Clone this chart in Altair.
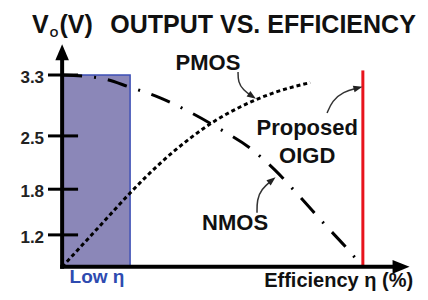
import altair as alt
import pandas as pd

# ---- data (Efficiency in %, Vo in V) ----
tick_values = [3.3, 2.5, 1.8, 1.2]
tick_labels = ["3.3", "2.5", "1.8", "1.2"]

nmos_eff = [0, 12.6, 22.6, 32.6, 42.6, 52.5, 62.5, 70.8, 79.1, 87.5, 94.1, 100]
nmos_vo = [3.3, 3.26, 3.14, 3.00, 2.81, 2.59, 2.34, 2.05, 1.70, 1.33, 1.05, 0.78]

pmos_eff = [0, 12.6, 22.6, 32.6, 42.6, 50.9, 59.2, 69.2, 82.5]
pmos_vo = [0.78, 1.32, 1.75, 2.14, 2.47, 2.70, 2.88, 3.05, 3.20]

v_origin = 0.78
v_max = 3.3
low_eff_max = 22.6
oigd_eff = 100
oigd_top = 3.36
y_axis_top = 3.6
x_axis_end = 112.7

# annotation arrows (curved pointers) in data units
arrow_names = ["PMOS"] * 4 + ["OIGD"] * 4 + ["NMOS"] * 4
arrow_eff = [58.5, 58.5, 60.2, 63.2, 88.1, 89.8, 93.4, 98.4, 64.8, 64.8, 66.2, 69.8]
arrow_vo = [3.34, 3.21, 3.10, 3.02, 2.80, 2.96, 3.08, 3.13, 1.49, 1.66, 1.80, 1.92]
head_eff = [63.2, 98.4, 69.8]
head_vo = [3.02, 3.13, 1.92]
head_angle = [34, 345, 321]

X_DOMAIN = [-18, 119]
Y_DOMAIN = [0.45, 4.18]
FONT = "Liberation Sans"

xs = alt.Scale(domain=X_DOMAIN, nice=False, zero=False)
ys = alt.Scale(domain=Y_DOMAIN, nice=False, zero=False)


def X(f):
    return alt.X(f, type="quantitative", scale=xs, axis=None)


def Y(f):
    return alt.Y(f, type="quantitative", scale=ys, axis=None)


rect_df = pd.DataFrame({"x": [0], "x2": [low_eff_max], "y": [v_origin], "y2": [v_max]})
rect = alt.Chart(rect_df).mark_rect(fill="#8b87b8", stroke="#3d4fb5", strokeWidth=1.5).encode(
    x=X("x"), x2="x2", y=Y("y"), y2="y2")

nmos_df = pd.DataFrame({"x": nmos_eff, "y": nmos_vo, "i": range(len(nmos_eff))})
nmos = alt.Chart(nmos_df).mark_line(color="black", strokeWidth=3, strokeDash=[20, 12, 2, 12],
                                    interpolate="monotone").encode(x=X("x"), y=Y("y"), order="i")

pmos_df = pd.DataFrame({"x": pmos_eff, "y": pmos_vo, "i": range(len(pmos_eff))})
pmos = alt.Chart(pmos_df).mark_line(color="black", strokeWidth=3, strokeDash=[4, 3],
                                    interpolate="monotone").encode(x=X("x"), y=Y("y"), order="i")

red_df = pd.DataFrame({"x": [oigd_eff], "y": [v_origin], "y2": [oigd_top]})
red = alt.Chart(red_df).mark_rule(color="#e8141c", strokeWidth=3).encode(x=X("x"), y=Y("y"), y2="y2")

yax_df = pd.DataFrame({"x": [0], "y": [v_origin], "y2": [y_axis_top]})
yax = alt.Chart(yax_df).mark_rule(color="black", strokeWidth=4, strokeCap="square").encode(
    x=X("x"), y=Y("y"), y2="y2")
xax_df = pd.DataFrame({"x": [0], "x2": [x_axis_end], "y": [v_origin]})
xax = alt.Chart(xax_df).mark_rule(color="black", strokeWidth=4, strokeCap="square").encode(
    x=X("x"), x2="x2", y=Y("y"))

yarrow = alt.Chart(pd.DataFrame({"x": [0], "y": [y_axis_top]})).mark_point(
    shape="M0,-1L0.85,1L-0.85,1Z", filled=True, size=256, color="black", opacity=1).encode(x=X("x"), y=Y("y"))
xarrow = alt.Chart(pd.DataFrame({"x": [x_axis_end], "y": [v_origin]})).mark_point(
    shape="M1,0L-1,0.8L-1,-0.8Z", filled=True, size=289, color="black", opacity=1).encode(x=X("x"), y=Y("y"))

tick_df = pd.DataFrame({"v": tick_values, "lab": tick_labels, "a": [-4.7] * 4, "b": [5.3] * 4, "t": [-6.0] * 4})
ticks = alt.Chart(tick_df).mark_rule(color="black", strokeWidth=3).encode(x=X("a"), x2="b", y=Y("v"))
tick_text = alt.Chart(tick_df).mark_text(font=FONT, fontWeight="bold", fontSize=17, align="right",
                                         baseline="middle", dy=3, color="#222").encode(
    x=X("t"), y=Y("v"), text="lab")

arr_df = pd.DataFrame({"n": arrow_names, "x": arrow_eff, "y": arrow_vo, "i": range(len(arrow_eff))})
arrows = alt.Chart(arr_df).mark_line(color="#333", strokeWidth=1.5, interpolate="basis").encode(
    x=X("x"), y=Y("y"), detail="n", order="i")
head_df = pd.DataFrame({"x": head_eff, "y": head_vo, "a": head_angle})
heads = alt.Chart(head_df).mark_point(shape="M1,0L-1,0.75L-1,-0.75Z", filled=True, size=81,
                                      color="#222", opacity=1).encode(
    x=X("x"), y=Y("y"), angle=alt.Angle("a", type="quantitative", scale=None))


def label(txt, x, y, size, align="center", color="#111"):
    df = pd.DataFrame({"x": [x], "y": [y], "t": [txt]})
    return alt.Chart(df).mark_text(font=FONT, fontWeight="bold", fontSize=size, align=align,
                                   baseline="alphabetic", color=color).encode(x=X("x"), y=Y("y"), text="t")


texts = [
    label("V", -10.0, 3.85, 25, "left"),
    label("O", -4.1, 3.80, 11, "left"),
    label("(V)", -0.9, 3.85, 25, "left"),
    label("OUTPUT VS. EFFICIENCY", 16.0, 3.85, 25, "left"),
    label("PMOS", 48.5, 3.37, 22),
    label("Proposed", 81.5, 2.51, 22),
    label("OIGD", 81.5, 2.14, 22),
    label("NMOS", 57.5, 1.26, 22),
    label("Low η", 11.6, 0.57, 19, color="#2e4bb0"),
    label("Efficiency η (%)", 116.7, 0.51, 20, "right"),
]

chart = alt.layer(rect, pmos, nmos, red, yax, xax, yarrow, xarrow, ticks, tick_text, arrows, heads,
                  *texts).properties(
    width=412, height=284, padding=0, autosize=alt.AutoSizeParams(type="none"),
    background="white").configure_view(stroke=None)

chart.save("out.html", embed_options={"renderer": "svg", "actions": False})
